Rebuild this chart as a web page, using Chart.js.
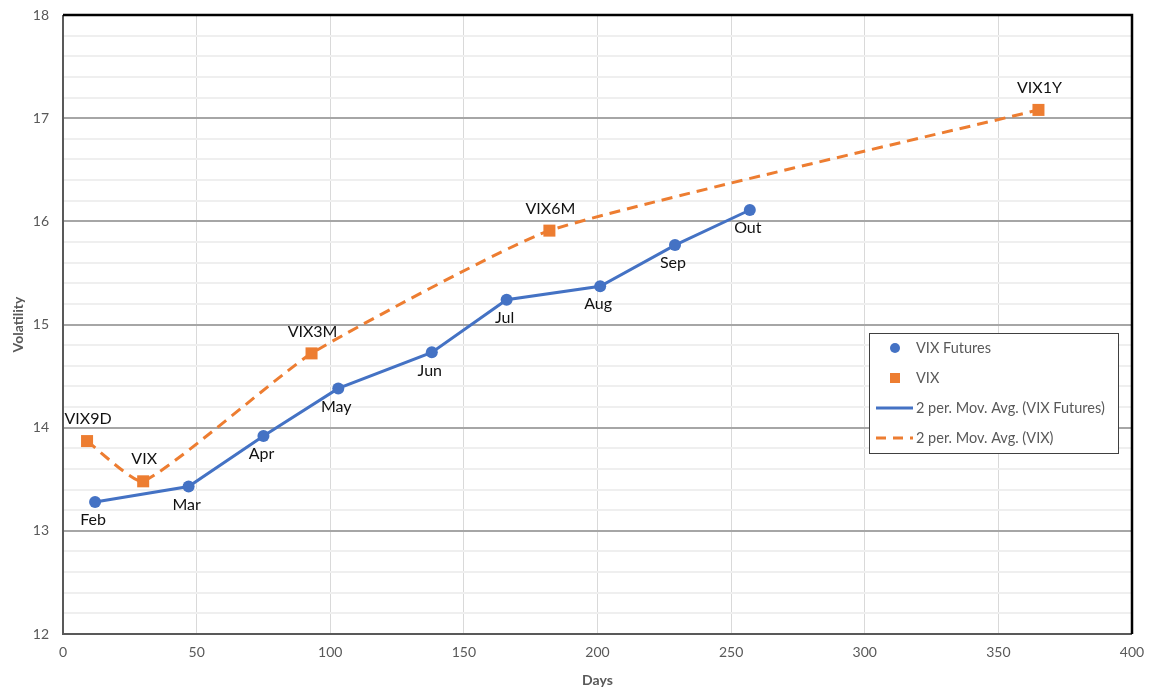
<!DOCTYPE html>
<html lang="en">
<head>
  <meta charset="UTF-8">
  <title>VIX term structure</title>
  <script src="https://cdn.jsdelivr.net/npm/chart.js"></script>
  <style>
    html, body { margin: 0; padding: 0; background: #fff; }
    #wrap { width: 1149px; height: 689px; }
  </style>
</head>
<body>
<div id="wrap"><canvas id="chart" width="1149" height="689"></canvas></div>
<script>
  // VIX futures (days to expiry, level)
  const futureNames = ['Feb', 'Mar', 'Apr', 'May', 'Jun', 'Jul', 'Aug', 'Sep', 'Out'];
  const futureDays = [12, 47, 75, 103, 138, 166, 201, 229, 257];
  const futureVols = [13.28, 13.43, 13.92, 14.38, 14.73, 15.24, 15.37, 15.77, 16.11];

  // VIX indices
  const vixNames = ['VIX9D', 'VIX', 'VIX3M', 'VIX6M', 'VIX1Y'];
  const vixDays = [9, 30, 93, 182, 365];
  const vixVols = [13.87, 13.48, 14.72, 15.91, 17.08];

  const legendItems = ['VIX Futures', 'VIX', '2 per. Mov. Avg. (VIX Futures)', '2 per. Mov. Avg. (VIX)'];

  const BLUE = '#4472c4';
  const ORANGE = '#ed7d31';
  const FONT = 'Lato, "Open Sans", sans-serif';

  const toPoints = (xs, ys) => xs.map((x, i) => ({x: x, y: ys[i]}));

  // point labels: futures below, indices above
  const pointLabels = {
    id: 'pointLabels',
    afterDatasetsDraw(chart) {
      const ctx = chart.ctx;
      ctx.save();
      ctx.font = '16px ' + FONT;
      ctx.fillStyle = '#111';
      ctx.textAlign = 'center';
      ctx.textBaseline = 'middle';
      chart.getDatasetMeta(0).data.forEach((el, i) => {
        ctx.fillText(futureNames[i], el.x - 2, el.y + 18);
      });
      chart.getDatasetMeta(1).data.forEach((el, i) => {
        ctx.fillText(vixNames[i], el.x + 1, el.y - 22);
      });
      ctx.restore();
    }
  };

  // plot frame
  const frame = {
    id: 'frame',
    beforeDatasetsDraw(chart) {
      const {left, right, top, bottom} = chart.chartArea;
      const ctx = chart.ctx;
      ctx.save();
      ctx.lineWidth = 2;
      ctx.strokeStyle = '#595959';
      ctx.beginPath();
      ctx.moveTo(left, top); ctx.lineTo(left, bottom); ctx.lineTo(right, bottom);
      ctx.stroke();
      ctx.strokeStyle = '#000';
      ctx.lineWidth = 2.5;
      ctx.beginPath();
      ctx.moveTo(left, top); ctx.lineTo(right, top); ctx.lineTo(right, bottom);
      ctx.stroke();
      ctx.restore();
    }
  };

  // legend box inside the plot
  const boxLegend = {
    id: 'boxLegend',
    afterDraw(chart) {
      const ca = chart.chartArea;
      const ctx = chart.ctx;
      const x0 = ca.right - 263, y0 = ca.top + 318, w = 249, h = 120;
      ctx.save();
      ctx.fillStyle = '#fff';
      ctx.fillRect(x0, y0, w, h);
      ctx.strokeStyle = '#404040';
      ctx.lineWidth = 1;
      ctx.strokeRect(x0 + 0.5, y0 + 0.5, w, h);
      ctx.font = '14.5px ' + FONT;
      ctx.textBaseline = 'middle';
      legendItems.forEach((txt, i) => {
        const cy = y0 + 15 + i * 30;
        const mx = x0 + 26;
        if (i === 0) {
          ctx.fillStyle = BLUE;
          ctx.beginPath(); ctx.arc(mx, cy, 5, 0, Math.PI * 2); ctx.fill();
        } else if (i === 1) {
          ctx.fillStyle = ORANGE;
          ctx.fillRect(mx - 5, cy - 5, 10, 10);
        } else {
          ctx.strokeStyle = i === 2 ? BLUE : ORANGE;
          ctx.lineWidth = 3;
          ctx.setLineDash(i === 3 ? [10, 7] : []);
          ctx.beginPath(); ctx.moveTo(x0 + 7, cy); ctx.lineTo(x0 + 44, cy); ctx.stroke();
          ctx.setLineDash([]);
        }
        ctx.fillStyle = '#595959';
        ctx.fillText(txt, x0 + 47, cy);
      });
      ctx.restore();
    }
  };

  const isMajor = v => Math.abs(v - Math.round(v)) < 1e-6;

  new Chart(document.getElementById('chart'), {
    type: 'scatter',
    data: {
      datasets: [
        {
          label: 'VIX Futures',
          data: toPoints(futureDays, futureVols),
          showLine: true,
          borderColor: BLUE,
          backgroundColor: BLUE,
          borderWidth: 3,
          pointRadius: 6,
          pointBorderWidth: 0,
          pointHoverRadius: 6,
          order: 1
        },
        {
          label: 'VIX',
          data: toPoints(vixDays, vixVols),
          showLine: false,
          pointStyle: 'rect',
          borderColor: ORANGE,
          backgroundColor: ORANGE,
          pointRadius: 8.5,
          pointBorderWidth: 0,
          order: 0
        },
        {
          label: '2 per. Mov. Avg. (VIX)',
          data: toPoints(vixDays, vixVols),
          showLine: true,
          borderColor: ORANGE,
          borderWidth: 3,
          borderDash: [11, 7],
          tension: 0.15,
          pointRadius: 0,
          order: 2
        }
      ]
    },
    options: {
      responsive: false,
      animation: false,
      layout: { padding: { left: 0, right: 17, top: 15, bottom: 0 } },
      plugins: {
        legend: { display: false },
        tooltip: { enabled: false }
      },
      scales: {
        x: {
          type: 'linear',
          min: 0, max: 400,
          border: { display: false },
          grid: { color: '#d9d9d9', lineWidth: 1, drawTicks: false },
          ticks: { stepSize: 50, color: '#595959', font: { family: FONT, size: 14 }, padding: 10 },
          title: { display: true, text: 'Days', color: '#595959', font: { family: FONT, size: 14, weight: 'bold' }, padding: { top: 0, bottom: 0 } },
          afterFit(scale) {
            scale.height = 55;
            scale.paddingLeft = 0;
            scale.paddingRight = 0;
          }
        },
        y: {
          min: 12, max: 18,
          border: { display: false },
          grid: {
            drawTicks: false,
            color: ctx => isMajor(ctx.tick.value) ? '#a6a6a6' : '#efefef',
            lineWidth: 2
          },
          ticks: {
            stepSize: 0.2,
            autoSkip: false,
            color: '#595959',
            font: { family: FONT, size: 14 },
            padding: 14,
            callback: v => isMajor(v) ? String(Math.round(v)) : ''
          },
          title: { display: true, text: 'Volatility', color: '#595959', font: { family: FONT, size: 14, weight: 'bold' }, padding: { top: 10, bottom: 0 } },
          afterFit(scale) {
            scale.width = 63;
            scale.paddingTop = 0;
            scale.paddingBottom = 0;
          }
        }
      }
    },
    plugins: [frame, pointLabels, boxLegend]
  });
</script>
</body>
</html>
